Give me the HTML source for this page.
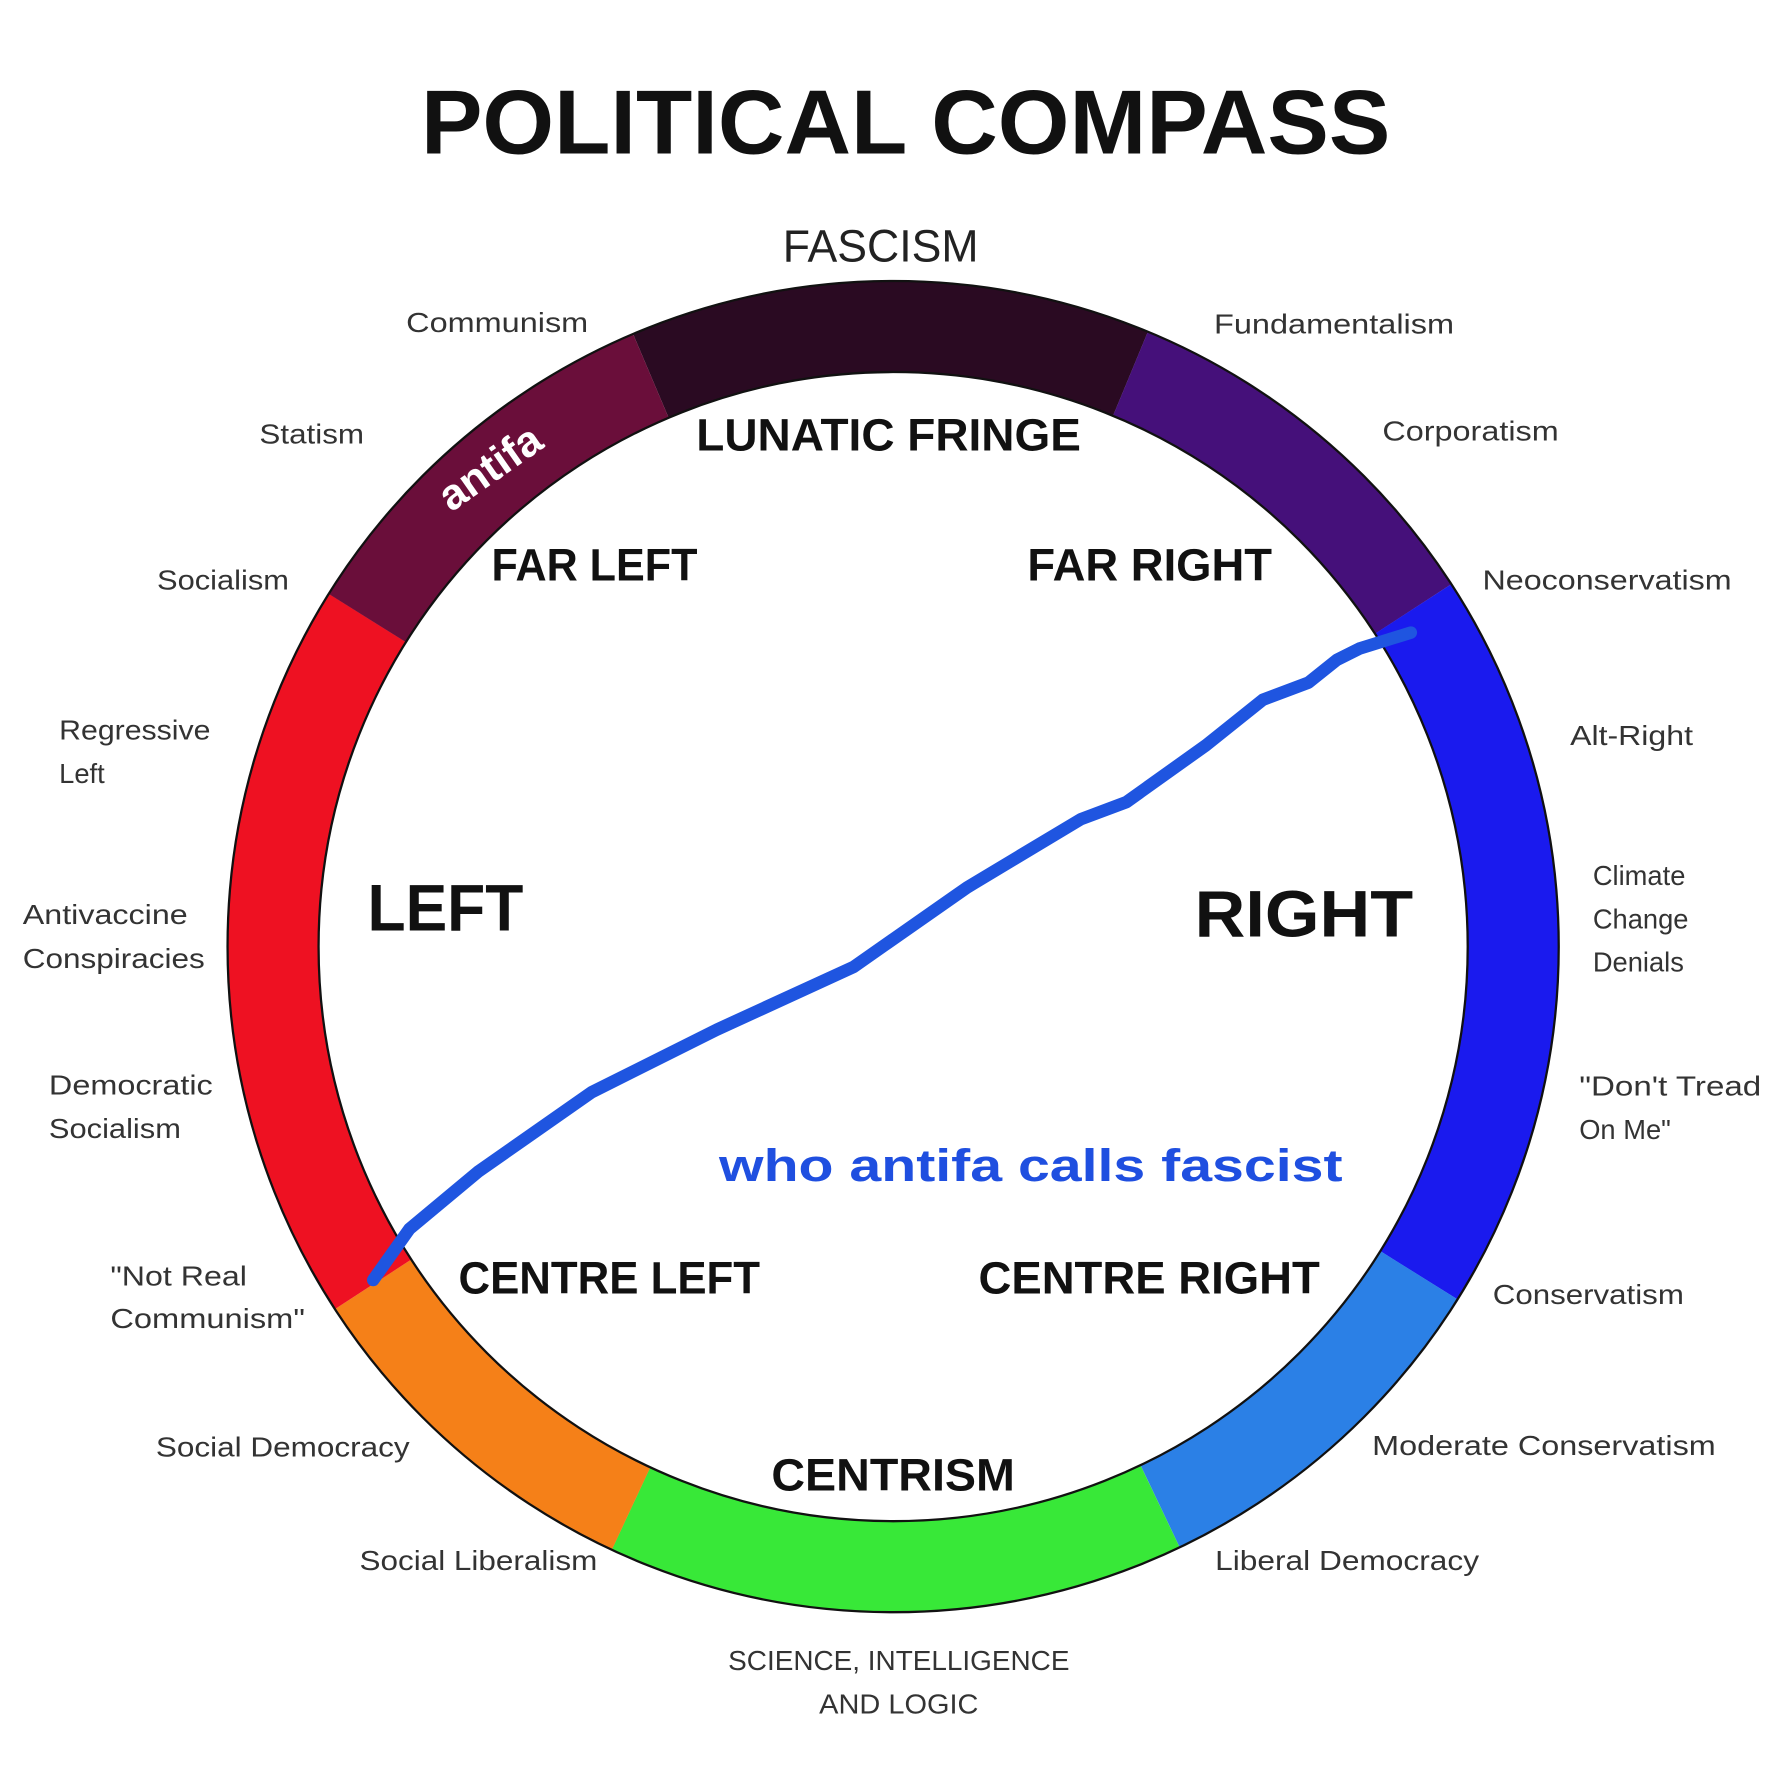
<!DOCTYPE html>
<html><head><meta charset="utf-8"><style>
html,body{margin:0;padding:0;background:#fff;}
svg{display:block;}
text{font-family:"Liberation Sans",sans-serif;fill:#222;}
.s{font-size:24px;fill:#333;}
.b{font-size:40px;font-weight:bold;fill:#111;}
</style></head><body>
<svg width="1784" height="1784" viewBox="0 0 1568 1568" xmlns="http://www.w3.org/2000/svg">
<rect width="1568" height="1568" fill="#fff"/>
<g fill="none" stroke-width="80">
<circle cx="785" cy="832" r="545" stroke="#2a0a22" stroke-dasharray="432.8 3424.3" transform="rotate(-113 785 832)"/>
<circle cx="785" cy="832" r="545" stroke="#45107a" stroke-dasharray="328.2 3424.3" transform="rotate(-67.5 785 832)"/>
<circle cx="785" cy="832" r="545" stroke="#1a1aee" stroke-dasharray="618.3 3424.3" transform="rotate(-33 785 832)"/>
<circle cx="785" cy="832" r="545" stroke="#2b80e6" stroke-dasharray="309.1 3424.3" transform="rotate(32 785 832)"/>
<circle cx="785" cy="832" r="545" stroke="#38e838" stroke-dasharray="480.4 3424.3" transform="rotate(64.5 785 832)"/>
<circle cx="785" cy="832" r="545" stroke="#f58018" stroke-dasharray="304.4 3424.3" transform="rotate(115 785 832)"/>
<circle cx="785" cy="832" r="545" stroke="#ee1122" stroke-dasharray="618.3 3424.3" transform="rotate(147 785 832)"/>
<circle cx="785" cy="832" r="545" stroke="#6a0e3a" stroke-dasharray="332.9 3424.3" transform="rotate(212 785 832)"/>
</g>
<circle cx="785" cy="832" r="585" fill="none" stroke="#111" stroke-width="2"/>
<circle cx="785" cy="832" r="505" fill="none" stroke="#111" stroke-width="2"/>

<text x="370" y="135" font-size="80" font-weight="bold" textLength="852" lengthAdjust="spacingAndGlyphs" style="fill:#111">POLITICAL COMPASS</text>
<text x="688" y="230" font-size="40" textLength="172" lengthAdjust="spacingAndGlyphs">FASCISM</text>
<text class="b" x="612" y="396" textLength="338" lengthAdjust="spacingAndGlyphs">LUNATIC FRINGE</text>
<text class="b" x="432" y="510" textLength="181" lengthAdjust="spacingAndGlyphs">FAR LEFT</text>
<text class="b" x="903" y="510" textLength="215" lengthAdjust="spacingAndGlyphs">FAR RIGHT</text>
<text x="323" y="818" font-size="58" font-weight="bold" style="fill:#111" textLength="137" lengthAdjust="spacingAndGlyphs">LEFT</text>
<text x="1050" y="823" font-size="58" font-weight="bold" style="fill:#111" textLength="192" lengthAdjust="spacingAndGlyphs">RIGHT</text>
<text class="b" x="403" y="1137" textLength="265" lengthAdjust="spacingAndGlyphs">CENTRE LEFT</text>
<text class="b" x="860" y="1137" textLength="300" lengthAdjust="spacingAndGlyphs">CENTRE RIGHT</text>
<text class="b" x="678" y="1310" textLength="214" lengthAdjust="spacingAndGlyphs">CENTRISM</text>
<text x="632" y="1038" font-size="40" font-weight="bold" style="fill:#1f4fe0" textLength="548" lengthAdjust="spacingAndGlyphs">who antifa calls fascist</text>
<text x="430" y="424" font-size="38" font-weight="bold" style="fill:#fff" text-anchor="middle" transform="rotate(-35 430 410)">antifa</text>

<text class="s" x="357" y="292" textLength="160" lengthAdjust="spacingAndGlyphs">Communism</text>
<text class="s" x="1067" y="293" textLength="211" lengthAdjust="spacingAndGlyphs">Fundamentalism</text>
<text class="s" x="228" y="390" textLength="92" lengthAdjust="spacingAndGlyphs">Statism</text>
<text class="s" x="1215" y="387" textLength="155" lengthAdjust="spacingAndGlyphs">Corporatism</text>
<text class="s" x="138" y="518" textLength="116" lengthAdjust="spacingAndGlyphs">Socialism</text>
<text class="s" x="1303" y="518" textLength="219" lengthAdjust="spacingAndGlyphs">Neoconservatism</text>
<text class="s" x="52" y="650" textLength="133" lengthAdjust="spacingAndGlyphs">Regressive</text>
<text class="s" x="52" y="688">Left</text>
<text class="s" x="1380" y="655" textLength="108" lengthAdjust="spacingAndGlyphs">Alt-Right</text>
<text class="s" x="1400" y="778">Climate</text>
<text class="s" x="1400" y="816">Change</text>
<text class="s" x="1400" y="854">Denials</text>
<text class="s" x="20" y="812" textLength="145" lengthAdjust="spacingAndGlyphs">Antivaccine</text>
<text class="s" x="20" y="851" textLength="160" lengthAdjust="spacingAndGlyphs">Conspiracies</text>
<text class="s" x="43" y="962" textLength="144" lengthAdjust="spacingAndGlyphs">Democratic</text>
<text class="s" x="43" y="1000" textLength="116" lengthAdjust="spacingAndGlyphs">Socialism</text>
<text class="s" x="1388" y="963" textLength="160" lengthAdjust="spacingAndGlyphs">"Don't Tread</text>
<text class="s" x="1388" y="1001">On Me"</text>
<text class="s" x="97" y="1130" textLength="120" lengthAdjust="spacingAndGlyphs">"Not Real</text>
<text class="s" x="97" y="1167" textLength="171" lengthAdjust="spacingAndGlyphs">Communism"</text>
<text class="s" x="1312" y="1146" textLength="168" lengthAdjust="spacingAndGlyphs">Conservatism</text>
<text class="s" x="137" y="1280" textLength="223" lengthAdjust="spacingAndGlyphs">Social Democracy</text>
<text class="s" x="1206" y="1279" textLength="302" lengthAdjust="spacingAndGlyphs">Moderate Conservatism</text>
<text class="s" x="316" y="1380" textLength="209" lengthAdjust="spacingAndGlyphs">Social Liberalism</text>
<text class="s" x="1068" y="1380" textLength="232" lengthAdjust="spacingAndGlyphs">Liberal Democracy</text>
<text class="s" x="640" y="1468" textLength="300" lengthAdjust="spacingAndGlyphs">SCIENCE, INTELLIGENCE</text>
<text class="s" x="720" y="1506" textLength="140" lengthAdjust="spacingAndGlyphs">AND LOGIC</text>

<polyline fill="none" stroke="#1f55e0" stroke-width="11" stroke-linecap="round" stroke-linejoin="round"
points="328,1125 360,1080 420,1030 520,960 630,905 750,850 850,780 950,720 990,705 1060,655 1110,615 1150,600 1175,580 1195,570 1240,556"/>
</svg>
</body></html>
